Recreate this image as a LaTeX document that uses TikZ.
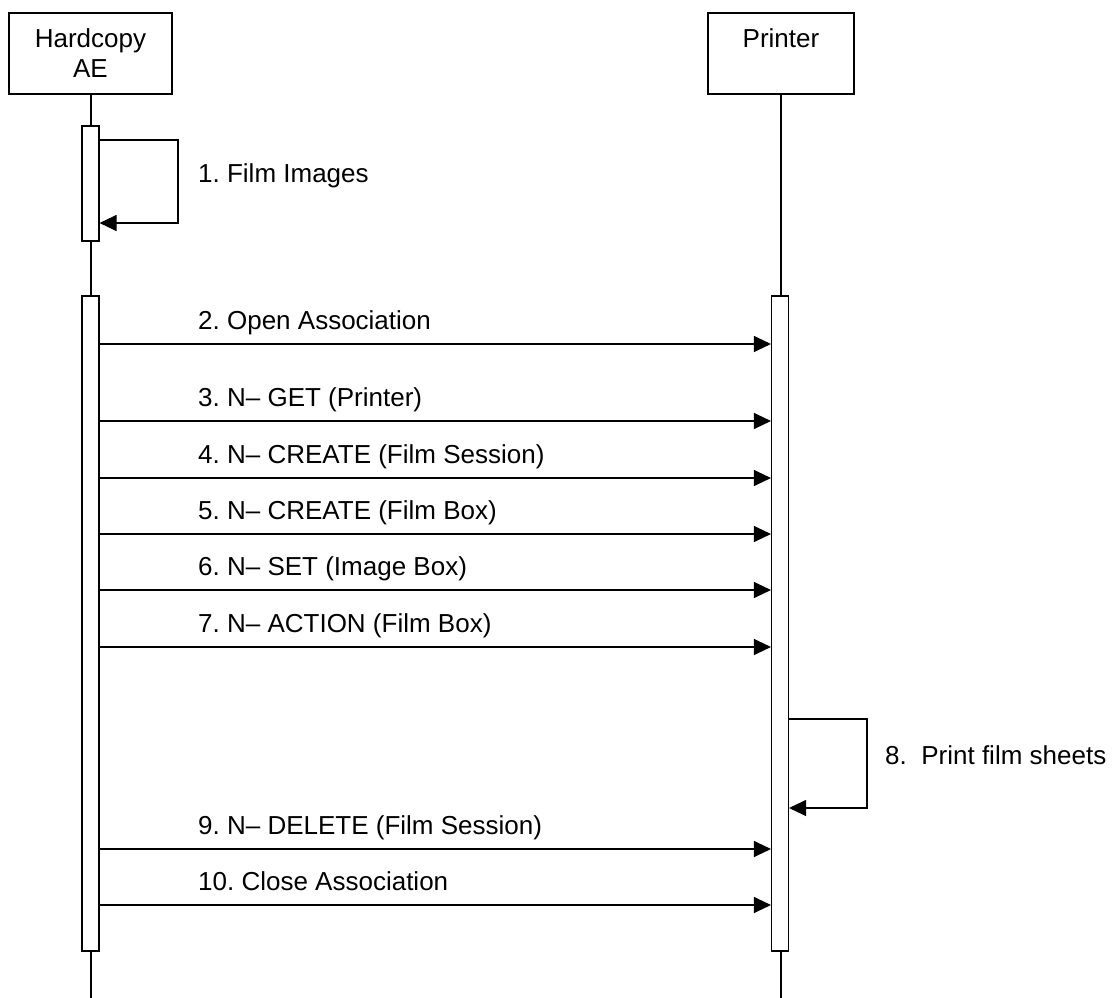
\documentclass[tikz,border=0pt]{standalone}
\usepackage{fontspec}
\setmainfont{Liberation Sans}
\usetikzlibrary{arrows.meta}
\frenchspacing
\begin{document}
\begin{tikzpicture}[x=1pt,y=-1pt,
  every node/.style={font=\fontsize{26}{30}\selectfont},
  lane/.style={draw, line width=1.1pt, minimum height=81pt, inner sep=0pt, align=center},
  act/.style={draw, line width=1.1pt, fill=white, minimum width=17pt, inner sep=0pt},
  life/.style={line width=1.1pt},
  msg/.style={line width=1.1pt, -{Triangle[length=17pt,width=16pt]}},
  lbl/.style={anchor=base west, inner sep=0pt}]
\useasboundingbox (0,0) rectangle (1112,998);
% lifeline heads
\node[lane, minimum width=163pt] (hc) at (90.5,53.5) {Hardcopy\\AE};
\node[lane, minimum width=146pt] (pr) at (781,53.5) {Printer\\~};
% lifelines
\coordinate (hcend) at (91,998);
\coordinate (prend) at (781,998);
\draw[life] (hc.south -| hcend) -- (hcend);
\draw[life] (pr.south) -- (prend);
% activations
\node[act, minimum height=115pt] (a1) at (90.5,183.5) {};
\node[act, minimum height=655pt] (a2) at (90.5,623.5) {};
\node[act, minimum height=655pt] (p1) at (780,623.5) {};
% self message 1
\coordinate (l1a) at (178,140);
\coordinate (l1b) at (178,223);
\draw[msg] (a1.east |- l1a) -- (l1a) -- (l1b) -- (a1.east |- l1b);
\node[lbl] (t1) at (198,182) {1. Film Images};
% messages
\foreach \y/\t/\n in {344/{2. Open Association}/2,
                     421/{3. N– GET (Printer)}/3,
                     478/{4. N– CREATE (Film Session)}/4,
                     534/{5. N– CREATE (Film Box)}/5,
                     590/{6. N– SET (Image Box)}/6,
                     647/{7. N– ACTION (Film Box)}/7,
                     849/{9. N– DELETE (Film Session)}/9,
                     905/{10. Close Association}/10}{
  \coordinate (m\n) at (0,\y);
  \draw[msg] (a2.east |- m\n) -- (p1.west |- m\n);
  \node[lbl] (t\n) at (198,\y-15) {\t};
}
% self message 8
\coordinate (l8a) at (867,719);
\coordinate (l8b) at (867,808);
\draw[msg] (p1.east |- l8a) -- (l8a) -- (l8b) -- (p1.east |- l8b);
\node[lbl] (t8) at (885,764) {8.\ \ Print film sheets};
\end{tikzpicture}
\end{document}
